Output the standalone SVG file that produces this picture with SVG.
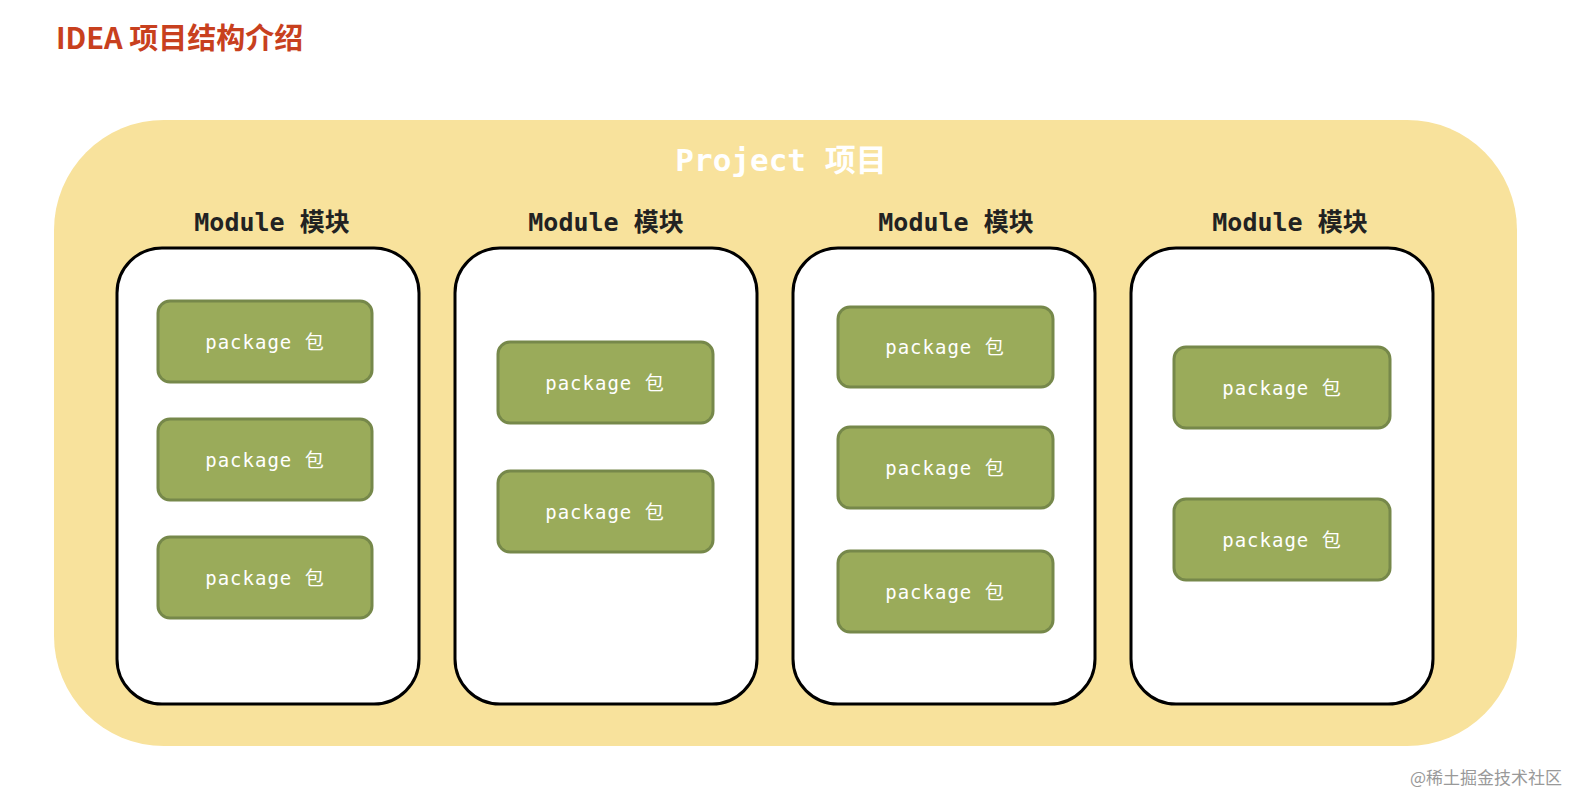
<svg xmlns="http://www.w3.org/2000/svg" width="1584" height="802" viewBox="0 0 1584 802">
<style>
.mod{fill:#fff;stroke:#000;stroke-width:3}
.pkg{fill:#9aab5a;stroke:#76884a;stroke-width:3}
.pt{font-family:"DejaVu Sans Mono","Noto Sans CJK SC",monospace;font-size:19px;fill:#fff;text-anchor:middle;dominant-baseline:central;letter-spacing:1px}
.mt{font-family:"DejaVu Sans Mono","Noto Sans CJK SC",monospace;font-weight:bold;font-size:25px;fill:#222;text-anchor:middle}
</style>
<rect width="1584" height="802" fill="#fff"/>
<text x="56" y="49" font-family="'Noto Sans CJK SC',sans-serif" font-weight="bold" font-size="29" fill="#c8401e">IDEA 项目结构介绍</text>
<g id="project">
<rect x="54" y="120" width="1463" height="626" rx="110" fill="#f8e29c"/>
<text x="781" y="171" font-family="'DejaVu Sans Mono','Noto Sans CJK SC',monospace" font-weight="bold" font-size="31" fill="#fff" text-anchor="middle">Project 项目</text>
</g>
<g id="m1"><text class="mt" x="272" y="231">Module 模块</text><rect class="mod" x="117" y="248" width="302" height="456" rx="45"/></g>
<g id="m2"><text class="mt" x="606" y="231">Module 模块</text><rect class="mod" x="455" y="248" width="302" height="456" rx="45"/></g>
<g id="m3"><text class="mt" x="956" y="231">Module 模块</text><rect class="mod" x="793" y="248" width="302" height="456" rx="45"/></g>
<g id="m4"><text class="mt" x="1290" y="231">Module 模块</text><rect class="mod" x="1131" y="248" width="302" height="456" rx="45"/></g>
<g id="p11"><rect class="pkg" x="158" y="301" width="214" height="81" rx="12"/><text class="pt" x="265" y="342">package 包</text></g>
<g id="p12"><rect class="pkg" x="158" y="419" width="214" height="81" rx="12"/><text class="pt" x="265" y="460">package 包</text></g>
<g id="p13"><rect class="pkg" x="158" y="537" width="214" height="81" rx="12"/><text class="pt" x="265" y="578">package 包</text></g>
<g id="p21"><rect class="pkg" x="498" y="342" width="215" height="81" rx="12"/><text class="pt" x="605" y="383">package 包</text></g>
<g id="p22"><rect class="pkg" x="498" y="471" width="215" height="81" rx="12"/><text class="pt" x="605" y="512">package 包</text></g>
<g id="p31"><rect class="pkg" x="838" y="307" width="215" height="80" rx="12"/><text class="pt" x="945" y="347">package 包</text></g>
<g id="p32"><rect class="pkg" x="838" y="427" width="215" height="81" rx="12"/><text class="pt" x="945" y="468">package 包</text></g>
<g id="p33"><rect class="pkg" x="838" y="551" width="215" height="81" rx="12"/><text class="pt" x="945" y="592">package 包</text></g>
<g id="p41"><rect class="pkg" x="1174" y="347" width="216" height="81" rx="12"/><text class="pt" x="1282" y="388">package 包</text></g>
<g id="p42"><rect class="pkg" x="1174" y="499" width="216" height="81" rx="12"/><text class="pt" x="1282" y="540">package 包</text></g>
<g id="connectors"/>
<text x="1562" y="784" font-family="'Noto Sans CJK SC',sans-serif" font-size="17" fill="#999" text-anchor="end">@稀土掘金技术社区</text>
</svg>
